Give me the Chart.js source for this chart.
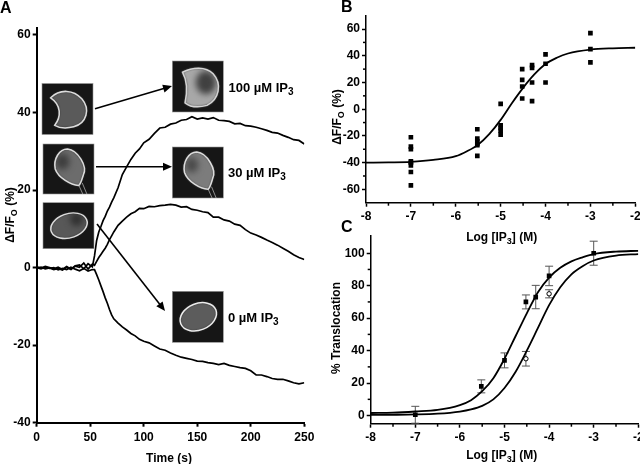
<!DOCTYPE html>
<html>
<head>
<meta charset="utf-8">
<style>
html, body { margin: 0; padding: 0; background: #fff; overflow: hidden; width: 640px; height: 464px; }
canvas { position: absolute; filter: blur(0.35px); }
#chartA { left: 0; top: 0; }
#chartB { left: 320px; top: 0; }
#chartC { left: 320px; top: 218px; }
</style>
<script src="https://cdn.jsdelivr.net/npm/chart.js@4/dist/chart.umd.min.js"></script>
</head>
<body>
<canvas id="chartA" width="320" height="464"></canvas>
<canvas id="chartB" width="340" height="246"></canvas>
<canvas id="chartC" width="340" height="246"></canvas>
<script>
// Panel A traces
const timeS = [
    0, 4, 8, 12, 16, 20, 24, 28, 32, 36, 40, 44, 48, 52,
    54, 56, 58, 60, 62, 64, 66, 68, 70, 72,
    76, 80, 84, 88, 92, 96, 100,
    105, 110, 115, 120, 125, 130, 135, 140, 145, 150,
    155, 160, 165, 170, 175, 180, 185, 190, 195, 200,
    205, 210, 215, 220, 225, 230, 235, 240, 245, 250
];
const trace100 = [
    0.2, -0.1, 0.3, 0, -0.3, 0.1, -0.5, 0.3, -0.4, 0.5, 0.7, -0.3, 1, 0.2,
    3, 7, 9.2, 10.6, 12.1, 13.2, 14.6, 15.6, 16.9, 18,
    20.6, 24, 26, 27.9, 29.5, 30.6, 32.2,
    33.1, 34.6, 36, 36.2, 37, 37.3, 38, 38.2, 38.9, 38.3,
    38.6, 38.3, 38.7, 38, 37.9, 37.7, 37.1, 37.2, 36.6, 36.5,
    36.2, 35.8, 35.4, 34.9, 34.7, 34.1, 33.6, 33, 32.8, 31.9
];
const trace30 = [
    -0.2, 0.1, -0.3, -0.1, -0.5, -0.2, -0.6, 0.1, -0.5, 0.4, 0.1, 1.2, -0.4, 0.9,
    0.6, 1.6, 2.6, 3.4, 4.2, 5, 6, 7.2, 8.2, 9.2,
    10.9, 12, 13, 13.9, 14.4, 15.3, 15.2,
    15.8, 15.7, 16, 16.1, 16.3, 16.1, 15.6, 15.7, 15, 14.8,
    14.4, 14.2, 13, 13, 12.3, 12, 11.2, 10.9, 9.8, 8.9,
    8.4, 7.8, 7.1, 6.5, 5.8, 5, 4.2, 3.3, 2.6, 2.1
];
const trace0 = [
    0, -0.3, 0.1, -0.2, 0, -0.6, -0.2, -0.5, 0.1, -0.4, -0.8, -0.2, -0.9, -0.5,
    -0.5, -1.8, -3.2, -4.7, -6.2, -7.8, -9.2, -10.8, -12.2, -13.2,
    -14.3, -15.3, -16.1, -17, -17.6, -18.5, -19,
    -19.4, -20.2, -21, -21.3, -22, -22.6, -23.1, -23.4, -23.7, -24.1,
    -24.2, -24.5, -24.7, -25, -24.7, -25.2, -25.5, -25.8, -26, -26.6,
    -27.7, -27.7, -28.1, -28.6, -28.8, -28.8, -29.2, -29.7, -30, -29.7
];

// Panel B
const scatterLogB = [
    -7, -7, -7, -7, -7, -7, -7, -7,
    -5.52, -5.52, -5.52, -5.52, -5.52, -5.52,
    -5, -5, -5, -5, -5,
    -4.52, -4.52, -4.52, -4.52,
    -4.3, -4.3, -4.3, -4.3,
    -4, -4, -4,
    -3, -3, -3
];
const scatterValB = [
    -21, -28, -30, -39, -40, -42, -47, -57,
    -15, -22, -24, -26, -27, -35,
    4, -12, -14, -16, -19,
    30, 22, 17, 8,
    33, 31, 20, 6,
    41, 34, 20,
    57, 45, 35
];
const curveLogB = [-8, -7.5, -7, -6.5, -6, -5.75, -5.5, -5.25, -5, -4.75, -4.5, -4.25, -4, -3.75, -3.5, -3, -2.5, -2];
const curveValB = [-40, -39.8, -39.4, -38, -35.2, -31.5, -26.5, -18.5, -8, 4.5, 16, 26, 33.8, 38.5, 41.7, 44.6, 45.6, 46];

// Panel C
const squareLogC = [-7, -5.52, -5, -4.52, -4.3, -4, -3];
const squareValC = [0.5, 18, 34, 70, 73, 86, 100];
const squareErrC = [5.2, 4, 4.6, 4.3, 7.2, 6, 7.4];
const circleLogC = [-4.52, -4];
const circleValC = [35, 75];
const circleErrC = [4.5, 2.5];
const curveLogC = [-8, -7.5, -7, -6.5, -6, -5.75, -5.5, -5.25, -5, -4.75, -4.5, -4.25, -4, -3.75, -3.5, -3.25, -3, -2.5, -2];
const curveValC1 = [1.6, 1.8, 2.5, 3.5, 6.5, 9.5, 15, 23, 35, 49, 63, 76, 85, 91, 95, 97.5, 99.5, 101, 101.5];
const curveValC2 = [0.4, 0.5, 0.7, 1.2, 2.5, 3.8, 6, 10, 17, 27, 40, 54, 68, 79, 87, 92, 95.5, 98.5, 99.5];

const ticksLogX = [-8, -7, -6, -5, -4, -3, -2];
const minorLogX = [-7.5, -6.5, -5.5, -4.5, -3.5, -2.5];
const minorB = [-50, -30, -10, 10, 30, 50];
const minorC = [10, 30, 50, 70, 90];

const FONT = '"Liberation Sans", Arial, sans-serif';

const pts = (xs, ys) => xs.map((x, i) => ({ x: x, y: ys[i] }));

// text with subscript parts: [['Log [IP'], ['3', true], ['] (M)']]
function drawRuns(ctx, x, y, runs, size, rotate, align) {
    ctx.save();
    ctx.translate(x, y);
    if (rotate) ctx.rotate(-Math.PI / 2);
    ctx.fillStyle = '#000';
    ctx.textBaseline = 'alphabetic';
    ctx.textAlign = 'left';
    let total = 0;
    runs.forEach(r => {
        ctx.font = 'bold ' + (r[1] ? size - 3 : size) + 'px ' + FONT;
        total += ctx.measureText(r[0]).width;
    });
    let cx = align === 'left' ? 0 : -total / 2;
    runs.forEach(r => {
        ctx.font = 'bold ' + (r[1] ? size - 3 : size) + 'px ' + FONT;
        ctx.fillText(r[0], cx, r[1] ? 3 : 0);
        cx += ctx.measureText(r[0]).width;
    });
    ctx.restore();
}

function linearAxis(min, max, step, width, height, tickWidth, labelPad, tickList) {
    const axis = {
        type: 'linear',
        min: min,
        max: max,
        border: { color: '#000', width: tickWidth },
        grid: { drawOnChartArea: false, drawTicks: true, tickLength: 4, tickWidth: tickWidth, tickColor: '#000' },
        ticks: { stepSize: step, includeBounds: false, color: '#000', padding: labelPad, maxRotation: 0, autoSkip: false,
                 font: { family: FONT, size: 12, weight: 'bold' } },
        afterFit: scale => {
            if (width) scale.width = width;
            if (height) scale.height = height;
        }
    };
    if (tickList) axis.afterBuildTicks = scale => { scale.ticks = tickList.map(v => ({ value: v })); };
    return axis;
}

// short unlabelled ticks between the labelled ones
const minorTicks = {
    id: 'minorTicks',
    afterDraw(chart, args, opts) {
        const ctx = chart.ctx, sx = chart.scales.x, sy = chart.scales.y;
        ctx.save();
        ctx.strokeStyle = '#000';
        ctx.lineWidth = 1.5;
        (opts.x || []).forEach(v => {
            const p = sx.getPixelForValue(v);
            ctx.beginPath(); ctx.moveTo(p, sx.top); ctx.lineTo(p, sx.top + 3); ctx.stroke();
        });
        (opts.y || []).forEach(v => {
            const p = sy.getPixelForValue(v);
            ctx.beginPath(); ctx.moveTo(sy.right, p); ctx.lineTo(sy.right - 3, p); ctx.stroke();
        });
        ctx.restore();
    }
};

// panel letters, axis titles and the other free text
const labels = {
    id: 'labels',
    afterDraw(chart, args, opts) {
        (opts.items || []).forEach(t => drawRuns(chart.ctx, t.x, t.y, t.runs, t.size || 12, t.rotate, t.align));
    }
};

const errorBars = {
    id: 'errorBars',
    beforeDatasetsDraw(chart, args, opts) {
        const ctx = chart.ctx, sx = chart.scales.x, sy = chart.scales.y;
        ctx.save();
        ctx.strokeStyle = '#555';
        ctx.lineWidth = 1;
        (opts.sets || []).forEach(set => {
            set.xs.forEach((x, i) => {
                const px = sx.getPixelForValue(x);
                const hi = sy.getPixelForValue(set.ys[i] + set.errs[i]);
                const lo = sy.getPixelForValue(set.ys[i] - set.errs[i]);
                ctx.beginPath();
                ctx.moveTo(px, hi); ctx.lineTo(px, lo);
                ctx.moveTo(px - 4, hi); ctx.lineTo(px + 4, hi);
                ctx.moveTo(px - 4, lo); ctx.lineTo(px + 4, lo);
                ctx.stroke();
            });
        });
        ctx.restore();
    }
};

// micrograph insets, drawn as dark tiles with a bright cell outline
function crescent(ctx) {
    ctx.moveTo(.17, .28);
    ctx.bezierCurveTo(.35, .1, .62, .12, .78, .3);
    ctx.bezierCurveTo(.95, .5, .88, .78, .62, .85);
    ctx.bezierCurveTo(.5, .88, .35, .88, .25, .82);
    ctx.bezierCurveTo(.38, .65, .38, .42, .17, .28);
}
function swollen(ctx) {
    ctx.moveTo(.2, .22);
    ctx.bezierCurveTo(.4, .12, .65, .1, .8, .25);
    ctx.bezierCurveTo(.98, .45, .92, .75, .68, .87);
    ctx.bezierCurveTo(.5, .92, .35, .9, .25, .82);
    ctx.bezierCurveTo(.3, .6, .3, .4, .2, .22);
}
function pear(ctx) {
    ctx.moveTo(.48, .1);
    ctx.bezierCurveTo(.68, .12, .88, .45, .79, .62);
    ctx.bezierCurveTo(.76, .72, .74, .8, .7, .83);
    ctx.bezierCurveTo(.55, .82, .3, .68, .24, .5);
    ctx.bezierCurveTo(.2, .3, .32, .1, .48, .1);
}
function oval(ctx) {
    ctx.ellipse(.51, .5, .37, .26, -0.38, 0, Math.PI * 2);
}

function drawInset(ctx, box, shape, fill, edge, spot, tails) {
    ctx.save();
    ctx.fillStyle = '#161616';
    ctx.fillRect(box[0], box[1], box[2], box[3]);
    ctx.strokeStyle = '#999';
    ctx.lineWidth = 0.6;
    ctx.strokeRect(box[0], box[1], box[2], box[3]);
    ctx.beginPath();
    ctx.rect(box[0], box[1], box[2], box[3]);
    ctx.clip();
    ctx.translate(box[0], box[1]);
    ctx.scale(box[2], box[3]);
    if (tails) {
        ctx.strokeStyle = '#999';
        ctx.lineWidth = 0.018;
        ctx.beginPath();
        ctx.moveTo(.7, .82); ctx.lineTo(.78, 1);
        ctx.moveTo(.77, .78); ctx.lineTo(.86, 1);
        ctx.stroke();
    }
    ctx.filter = 'blur(1px)';
    ctx.beginPath();
    shape(ctx);
    ctx.closePath();
    ctx.fillStyle = fill;
    ctx.fill();
    if (spot) {
        ctx.save();
        ctx.clip();
        ctx.filter = 'blur(3px)';
        ctx.fillStyle = spot[3];
        ctx.beginPath();
        ctx.ellipse(spot[0], spot[1], spot[2], spot[2] * 1.15, 0, 0, Math.PI * 2);
        ctx.fill();
        ctx.restore();
    }
    ctx.filter = 'blur(0.5px)';
    ctx.beginPath();
    shape(ctx);
    ctx.closePath();
    ctx.strokeStyle = edge;
    ctx.lineWidth = 0.03;
    ctx.stroke();
    ctx.restore();
}

function drawArrow(ctx, x1, y1, x2, y2) {
    const a = Math.atan2(y2 - y1, x2 - x1);
    ctx.save();
    ctx.strokeStyle = '#000';
    ctx.fillStyle = '#000';
    ctx.lineWidth = 1.6;
    ctx.beginPath();
    ctx.moveTo(x1, y1);
    ctx.lineTo(x2 - 6 * Math.cos(a), y2 - 6 * Math.sin(a));
    ctx.stroke();
    ctx.translate(x2, y2);
    ctx.rotate(a);
    ctx.beginPath();
    ctx.moveTo(0, 0);
    ctx.lineTo(-9, -4);
    ctx.lineTo(-9, 4);
    ctx.closePath();
    ctx.fill();
    ctx.restore();
}

const insets = {
    id: 'insets',
    afterDraw(chart) {
        const ctx = chart.ctx;
        drawInset(ctx, [42, 83.5, 51, 51], crescent, '#5a5a5a', '#dcdcdc', null, false);
        drawInset(ctx, [43, 144, 51, 50], pear, '#6c6c6c', '#dcdcdc', [.38, .35, .14, '#3e3e3e'], true);
        drawInset(ctx, [43, 202.7, 51, 46], oval, '#585858', '#dcdcdc', [.66, .36, .13, '#303030'], false);
        drawInset(ctx, [172.3, 61, 51, 51], swollen, '#a8a8a8', '#d4d4d4', [.66, .42, .2, '#404040'], false);
        drawInset(ctx, [172.3, 147, 51, 51], pear, '#7c7c7c', '#dcdcdc', [.38, .35, .13, '#4a4a4a'], true);
        drawInset(ctx, [172.3, 291.3, 51, 51], oval, '#5c5c5c', '#ececec', null, false);
        drawArrow(ctx, 95, 108.7, 172, 86);
        drawArrow(ctx, 96, 166.7, 172, 166.7);
        drawArrow(ctx, 97, 224, 165, 311);
    }
};

function lineSet(xs, ys, width) {
    return { data: pts(xs, ys), borderColor: '#000', borderWidth: width, pointRadius: 0, fill: false, tension: 0 };
}
function curveSet(xs, ys) {
    return { data: pts(xs, ys), borderColor: '#000', borderWidth: 1.8, pointRadius: 0, fill: false, cubicInterpolationMode: 'monotone' };
}
function squareSet(xs, ys) {
    return { data: pts(xs, ys), showLine: false, pointStyle: 'rect', pointRadius: 3.3, pointBackgroundColor: '#000', pointBorderColor: '#000', pointBorderWidth: 0 };
}

const baseOptions = {
    responsive: false,
    animation: false,
    plugins: { legend: { display: false }, tooltip: { enabled: false } }
};

const logLabel = [['Log [IP'], ['3', true], ['] (M)']];
const dffLabel = [['\u0394F/F'], ['O', true], [' (%)']];

new Chart(document.getElementById('chartA'), {
    type: 'line',
    data: { datasets: [lineSet(timeS, trace100, 1.7), lineSet(timeS, trace30, 1.7), lineSet(timeS, trace0, 1.7)] },
    plugins: [insets, labels],
    options: {
        ...baseOptions,
        layout: { padding: { left: 0, top: 28, right: 15.7, bottom: 0 } },
        scales: {
            x: linearAxis(0, 250, 50, 0, 41.3, 2, 4),
            y: linearAxis(-40, 61.8, 20, 36.7, 0, 2, 2)
        },
        plugins: {
            ...baseOptions.plugins,
            labels: { items: [
                { x: 0, y: 13, runs: [['A']], size: 16, align: 'left' },
                { x: 169, y: 462, runs: [['Time (s)']] },
                { x: 14, y: 215, runs: dffLabel, rotate: true },
                { x: 228.5, y: 91.5, runs: [['100 \u00b5M IP'], ['3', true]], size: 13, align: 'left' },
                { x: 228, y: 177, runs: [['30 \u00b5M IP'], ['3', true]], size: 13, align: 'left' },
                { x: 228, y: 321.5, runs: [['0 \u00b5M IP'], ['3', true]], size: 13, align: 'left' }
            ] }
        }
    }
});

new Chart(document.getElementById('chartB'), {
    type: 'line',
    data: { datasets: [curveSet(curveLogB, curveValB), squareSet(scatterLogB, scatterValB)] },
    plugins: [minorTicks, labels],
    options: {
        ...baseOptions,
        layout: { padding: { left: 0, top: 15.7, right: 24.7, bottom: 0 } },
        scales: {
            x: linearAxis(-8, -2, 1, 0, 43.3, 1.5, 3, ticksLogX),
            y: linearAxis(-70, 70, 20, 46, 0, 1.5, 2, [-60, -40, -20, 0, 20, 40, 60])
        },
        plugins: {
            ...baseOptions.plugins,
            minorTicks: { x: minorLogX, y: minorB },
            labels: { items: [
                { x: 21, y: 12, runs: [['B']], size: 16, align: 'left' },
                { x: 181.7, y: 241, runs: logLabel },
                { x: 21, y: 117, runs: dffLabel, rotate: true }
            ] }
        }
    }
});

new Chart(document.getElementById('chartC'), {
    type: 'line',
    data: { datasets: [
        curveSet(curveLogC, curveValC1),
        curveSet(curveLogC, curveValC2),
        squareSet(squareLogC, squareValC),
        { data: pts(circleLogC, circleValC), showLine: false, pointStyle: 'circle', pointRadius: 2.2, pointBackgroundColor: '#fff', pointBorderColor: '#000', pointBorderWidth: 1 }
    ] },
    plugins: [minorTicks, errorBars, labels],
    options: {
        ...baseOptions,
        layout: { padding: { left: 0, top: 18, right: 21.7, bottom: 0 } },
        scales: {
            x: linearAxis(-8, -2, 1, 0, 40.3, 1.5, 3, ticksLogX),
            y: linearAxis(-5, 110.6, 20, 50.7, 0, 1.5, 2, [0, 20, 40, 60, 80, 100])
        },
        plugins: {
            ...baseOptions.plugins,
            minorTicks: { x: minorLogX, y: minorC },
            errorBars: { sets: [
                { xs: squareLogC, ys: squareValC, errs: squareErrC },
                { xs: circleLogC, ys: circleValC, errs: circleErrC }
            ] },
            labels: { items: [
                { x: 21, y: 14, runs: [['C']], size: 16, align: 'left' },
                { x: 181.7, y: 241, runs: logLabel },
                { x: 20, y: 110, runs: [['% Translocation']], rotate: true }
            ] }
        }
    }
});
</script>
</body>
</html>
